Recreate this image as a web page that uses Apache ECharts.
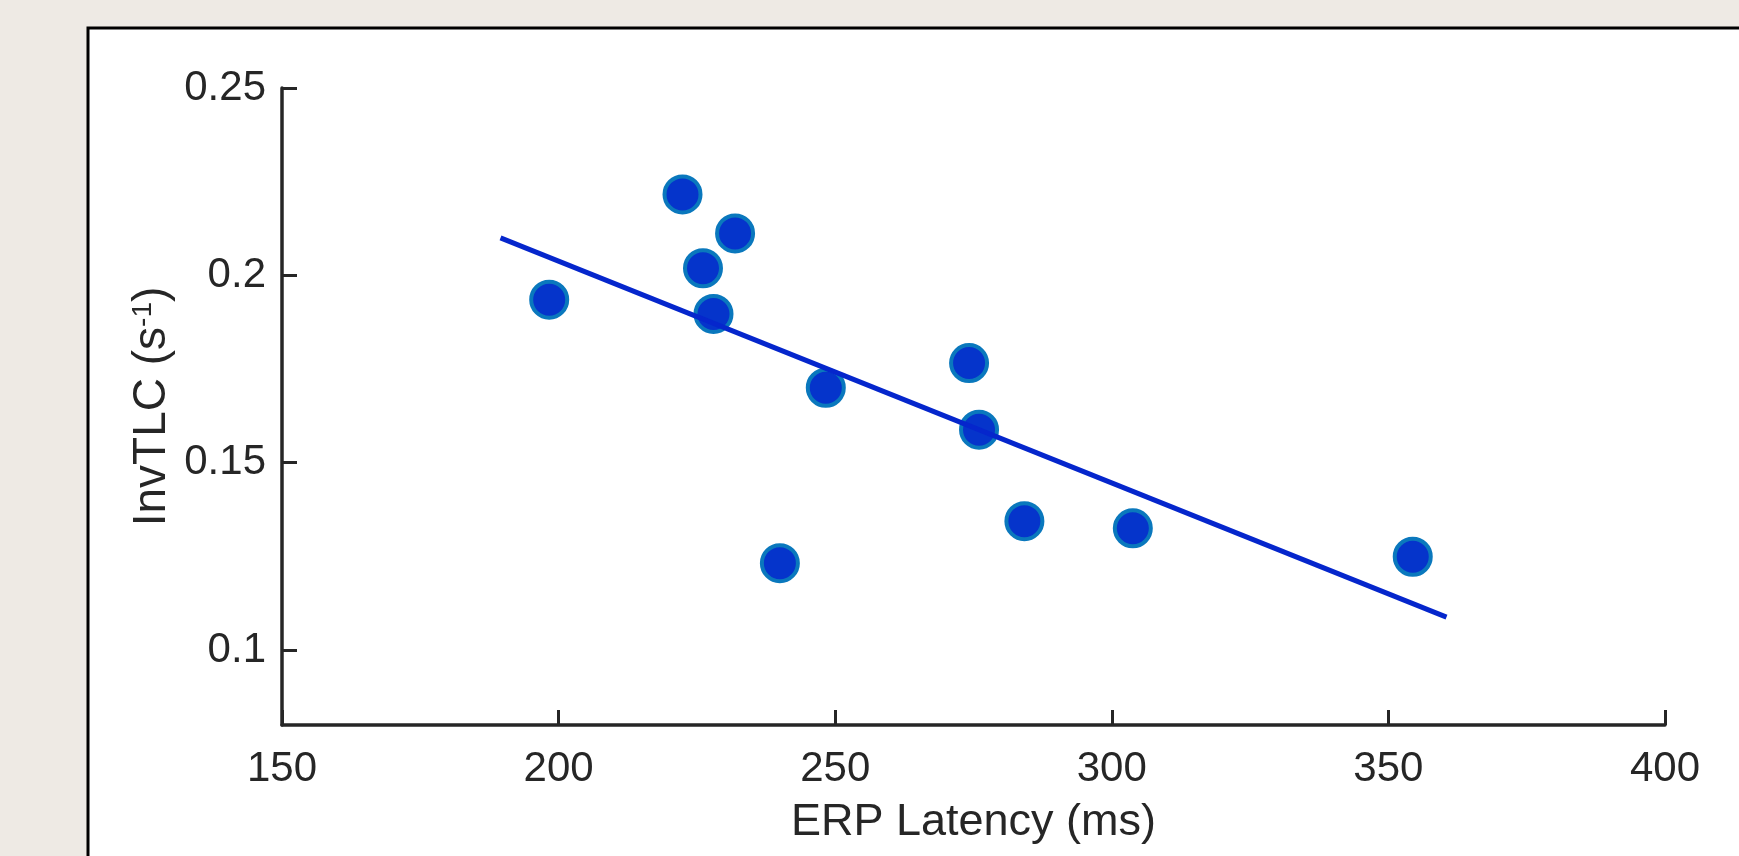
<!DOCTYPE html>
<html>
<head>
<meta charset="utf-8">
<script src="https://cdn.jsdelivr.net/npm/echarts@6/dist/echarts.min.js"></script>
<style>
  html, body { margin: 0; padding: 0; background: #eeeae4; }
  #chart { width: 1739px; height: 856px; }
</style>
</head>
<body>
<div id="chart"></div>
<script>
// values
var latency = [198.3, 222.4, 226.1, 231.9, 228.0, 248.3, 240.0, 274.2, 276.0, 284.2, 303.8, 354.4];
var invTLC  = [0.1935, 0.2216, 0.2019, 0.2112, 0.1897, 0.1700, 0.1232, 0.1766, 0.1588, 0.1344, 0.1325, 0.1249];

// least-squares line ends
var fitX = [189.5, 360.5];
var fitY = [0.2100, 0.1088];

var yTicks = [0.1, 0.15, 0.2, 0.25];

var font = "'Liberation Sans', Helvetica, Arial, sans-serif";
var ink = '#262626';

var points = latency.map(function (x, i) { return [x, invTLC[i]]; });
var fitLine = fitX.map(function (x, i) { return [x, fitY[i]]; });

var myChart = echarts.init(document.getElementById('chart'));

var option = {
    backgroundColor: '#eeeae4',
    animation: false,
    graphic: [{
        type: 'rect',
        z: -10,
        shape: { x: 88, y: 28, width: 1720, height: 900 },
        style: { fill: '#ffffff', stroke: '#000000', lineWidth: 3 }
    }],
    grid: {
        left: 282,
        right: 74,
        top: 88,
        bottom: 131
    },
    xAxis: {
        type: 'value',
        min: 150,
        max: 400,
        interval: 50,
        name: 'ERP Latency (ms)',
        nameLocation: 'middle',
        nameGap: 75,
        nameMoveOverlap: false,
        nameTextStyle: { fontFamily: font, fontSize: 45, color: ink },
        axisLine: { lineStyle: { color: ink, width: 3.5 } },
        axisTick: { inside: true, length: 15, lineStyle: { color: ink, width: 3 } },
        axisLabel: { margin: 23, fontFamily: font, fontSize: 42, color: ink },
        splitLine: { show: false }
    },
    yAxis: {
        type: 'value',
        min: 0.08,
        max: 0.25,
        name: '{a|InvTLC (s}{b|-1}{a|)}',
        nameLocation: 'middle',
        nameGap: 107,
        nameMoveOverlap: false,
        nameTextStyle: {
            rich: {
                a: { fontFamily: font, fontSize: 46, lineHeight: 46, color: ink, verticalAlign: 'bottom' },
                b: { fontFamily: font, fontSize: 28, lineHeight: 28, color: ink, verticalAlign: 'top', padding: [0, 0, 34, 0] }
            }
        },
        axisLine: { show: true, lineStyle: { color: ink, width: 3.5 } },
        axisTick: { show: true, inside: true, length: 15, customValues: yTicks, lineStyle: { color: ink, width: 3 } },
        axisLabel: { margin: 16, fontFamily: font, fontSize: 42, color: ink, customValues: yTicks },
        splitLine: { show: false }
    },
    series: [{
        type: 'scatter',
        data: points,
        symbol: 'circle',
        symbolSize: 36,
        itemStyle: { color: '#0534cb', borderColor: '#0a78bd', borderWidth: 4, opacity: 1 },
        z: 2
    }, {
        type: 'line',
        data: fitLine,
        showSymbol: false,
        lineStyle: { color: '#0526cc', width: 5 },
        z: 3
    }]
};

myChart.setOption(option);
</script>
</body>
</html>
